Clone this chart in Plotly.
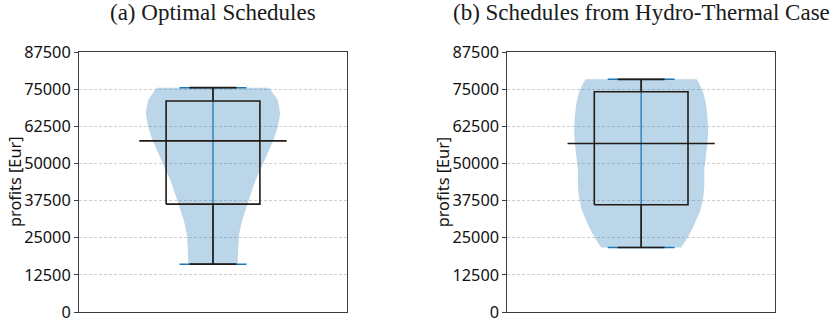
import plotly.graph_objects as go

# Profit distributions for the two schedule sets (Eur)
panel_titles = ["(a) Optimal Schedules", "(b) Schedules from Hydro-Thermal Case"]

# Box statistics: minimum, lower quartile, median, upper quartile, maximum
opt_stats = {"min": 16100, "q1": 36300, "median": 57600, "q3": 71000, "max": 75500}
ht_stats = {"min": 21700, "q1": 36100, "median": 56700, "q3": 74100, "max": 78300}

# Violin density profiles: profit levels and relative density (1 = widest)
opt_levels = [75500, 71300, 66800, 62300, 57800, 53400, 48900, 44400,
              39900, 35400, 30900, 26500, 22000, 16100]
opt_density = [0.836, 0.966, 1.0, 0.966, 0.90, 0.816, 0.727, 0.637,
               0.567, 0.503, 0.437, 0.393, 0.378, 0.369]

ht_levels = [78300, 74700, 70200, 65700, 61200, 56700, 52200, 47800,
             43300, 38800, 34300, 29800, 25300, 21700]
ht_density = [0.832, 0.915, 0.967, 0.99, 1.0, 0.99, 0.967, 0.945,
              0.945, 0.93, 0.885, 0.802, 0.70, 0.60]

y_ticks = [0, 12500, 25000, 37500, 50000, 62500, 75000, 87500]

CENTER = 1.0
VIOLIN_WIDTH = 0.5
BOX_WIDTH = 0.35
CAP_WIDTH = BOX_WIDTH / 2
MEDIAN_WIDTH = 0.55
EXTREMA_WIDTH = 0.25

VIOLIN_FILL = "rgba(31,119,180,0.3)"
VIOLIN_LINE = "#1f77b4"
BOX_LINE = "#231a14"
FRAME = "#3c3c3c"
SANS = "Noto Sans"
SANS_SIZE = 16.3


def line_trace(xs, ys, color, width, xa, ya):
    return go.Scatter(x=xs, y=ys, mode="lines", line=dict(color=color, width=width),
                      hoverinfo="skip", showlegend=False, xaxis=xa, yaxis=ya)


fig = go.Figure()

panels = [
    (opt_stats, opt_levels, opt_density, "x", "y"),
    (ht_stats, ht_levels, ht_density, "x2", "y2"),
]

for stats, levels, density, xa, ya in panels:
    half = VIOLIN_WIDTH / 2
    right_x = [CENTER + d * half for d in density]
    left_x = [CENTER - d * half for d in density]
    # outline: right side top->bottom, then left side bottom->top;
    # corner points repeated so the cut ends stay flat
    vx = ([right_x[0]] + right_x + [right_x[-1]]
          + [left_x[-1]] + left_x[::-1] + [left_x[0]] + [right_x[0]])
    vy = ([levels[0]] + levels + [levels[-1]]
          + [levels[-1]] + levels[::-1] + [levels[0]] + [levels[0]])
    fig.add_trace(go.Scatter(
        x=vx, y=vy, mode="lines", fill="toself", fillcolor=VIOLIN_FILL,
        line=dict(width=0, shape="spline", smoothing=0.5),
        hoverinfo="skip", showlegend=False, xaxis=xa, yaxis=ya))

    # violin centre bar and extrema caps
    fig.add_trace(line_trace([CENTER, CENTER], [stats["min"], stats["max"]],
                             VIOLIN_LINE, 1.3, xa, ya))
    ex = [CENTER - EXTREMA_WIDTH / 2, CENTER + EXTREMA_WIDTH / 2]
    fig.add_trace(line_trace(ex + [None] + ex,
                             [stats["min"]] * 2 + [None] + [stats["max"]] * 2,
                             VIOLIN_LINE, 1.5, xa, ya))

    # whiskers with caps
    cap = [CENTER - CAP_WIDTH / 2, CENTER + CAP_WIDTH / 2]
    wx = [CENTER, CENTER, None, CENTER, CENTER, None] + cap + [None] + cap
    wy = ([stats["q1"], stats["min"], None, stats["q3"], stats["max"], None]
          + [stats["min"]] * 2 + [None] + [stats["max"]] * 2)
    fig.add_trace(line_trace(wx, wy, BOX_LINE, 1.6, xa, ya))

    # box from lower to upper quartile
    b0, b1 = CENTER - BOX_WIDTH / 2, CENTER + BOX_WIDTH / 2
    fig.add_trace(line_trace([b0, b1, b1, b0, b0],
                             [stats["q1"], stats["q1"], stats["q3"], stats["q3"], stats["q1"]],
                             BOX_LINE, 1.6, xa, ya))

    # extended median line
    fig.add_trace(line_trace([CENTER - MEDIAN_WIDTH / 2, CENTER + MEDIAN_WIDTH / 2],
                             [stats["median"]] * 2, BOX_LINE, 1.6, xa, ya))

L, R, T, B = 79, 62, 52, 9
W, H = 837, 321
plot_w = W - L - R
dom_a = [0, 268 / plot_w]
dom_b = [(507.3 - L) / plot_w, 1]

xaxis_common = dict(range=[0.5, 1.5], showticklabels=False, ticks="",
                    showgrid=False, zeroline=False, showline=True,
                    linecolor=FRAME, linewidth=1, mirror=True, fixedrange=True,
                    automargin=False)
yaxis_common = dict(range=[0, 87500], tickvals=y_ticks,
                    ticktext=[str(v) for v in y_ticks],
                    ticks="outside", ticklen=4, tickwidth=1, tickcolor=FRAME,
                    ticklabeloverflow="allow", automargin=False,
                    showgrid=True, gridcolor="#cfcfcf", gridwidth=0.8,
                    griddash="3px,2px", zeroline=False, showline=True,
                    linecolor=FRAME, linewidth=1, mirror=True,
                    tickfont=dict(family=SANS, size=SANS_SIZE, color="#111111"))

annotations = []
for dom, title in zip([dom_a, dom_b], panel_titles):
    cx = (dom[0] + dom[1]) / 2
    annotations.append(dict(
        text=title, x=cx, y=1 + (T - 12) / (H - T - B), xref="paper", yref="paper",
        xanchor="center", yanchor="middle", showarrow=False,
        font=dict(family="Liberation Serif", size=23, color="#1a1a1a")))
    annotations.append(dict(
        text="profits [Eur]", x=dom[0] - 64 / plot_w, y=0.5,
        xref="paper", yref="paper", xanchor="center", yanchor="middle",
        textangle=-90, showarrow=False,
        font=dict(family=SANS, size=SANS_SIZE, color="#111111")))

fig.update_layout(
    width=W, height=H,
    margin=dict(l=L, r=R, t=T, b=B, autoexpand=False),
    paper_bgcolor="white", plot_bgcolor="white",
    xaxis=dict(domain=dom_a, **xaxis_common),
    xaxis2=dict(domain=dom_b, **xaxis_common),
    yaxis=dict(anchor="x", **yaxis_common),
    yaxis2=dict(anchor="x2", **yaxis_common),
    annotations=annotations,
    showlegend=False,
)

fig.write_html("out.html")
